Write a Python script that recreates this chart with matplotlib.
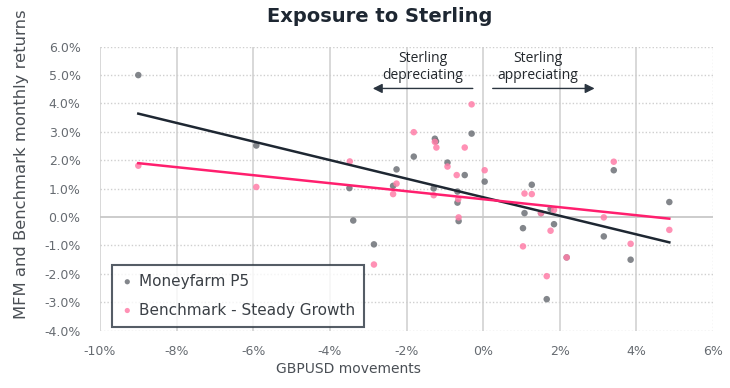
import matplotlib
matplotlib.use("Agg")
import matplotlib.pyplot as plt
import numpy as np
from matplotlib.ticker import FuncFormatter, MultipleLocator

# ---- data (percent) ----
mf_x = [-9.00, -5.92, -3.49, -3.39, -2.85, -2.35, -2.26, -1.81, -1.29, -1.26, -1.23,
        -0.93, -0.67, -0.67, -0.64, -0.48, -0.30, 0.04, 1.04, 1.08, 1.27, 1.51,
        1.66, 1.76, 1.85, 2.18, 3.15, 3.41, 3.85, 4.86]
mf_y = [5.00, 2.52, 1.02, -0.12, -0.96, 1.10, 1.68, 2.13, 1.01, 2.76, 2.67,
        1.92, 0.90, 0.51, -0.14, 1.48, 2.94, 1.25, -0.39, 0.14, 1.14, 0.14,
        -2.89, 0.29, -0.25, -1.42, -0.68, 1.65, -1.50, 0.53]

bm_x = [-9.00, -5.92, -3.48, -2.85, -2.35, -2.26, -1.81, -1.29, -1.26, -1.22,
        -0.93, -0.69, -0.65, -0.64, -0.48, -0.30, 0.04, 1.04, 1.08, 1.27, 1.51,
        1.66, 1.76, 1.85, 2.18, 3.15, 3.41, 3.85, 4.86]
bm_y = [1.81, 1.06, 1.96, -1.67, 0.81, 1.18, 2.99, 0.77, 2.65, 2.45,
        1.78, 1.48, 0.63, -0.01, 2.45, 3.97, 1.65, -1.03, 0.83, 0.81, 0.14,
        -2.08, -0.48, 0.25, -1.42, -0.01, 1.95, -0.94, -0.45]

# linear trend lines (slope, intercept)
mf_trend = (-0.327, 0.70)
bm_trend = (-0.141, 0.63)

series_labels = ["Moneyfarm P5", "Benchmark - Steady Growth"]
title = "Exposure to Sterling"
x_label = "GBPUSD movements"
y_label = "MFM and Benchmark monthly returns"

# ---- figure ----
fig = plt.figure(figsize=(7.3, 3.88), dpi=100)
ax = fig.add_axes([100/730, 1-330.7/388, 613/730, 284/388])

gray_dot = "#6d7177"
pink_dot = "#ff7ea8"
dark_line = "#1e2732"
pink_line = "#ff1f6e"

ax.scatter(mf_x, mf_y, s=22, color=gray_dot, alpha=0.85, edgecolors="none", zorder=3,
           label=series_labels[0])
ax.scatter(bm_x, bm_y, s=22, color=pink_dot, alpha=0.85, edgecolors="none", zorder=3,
           label=series_labels[1])

for xs, tr, col in [(mf_x, mf_trend, dark_line), (bm_x, bm_trend, pink_line)]:
    xx = np.array([min(xs), max(xs)])
    ax.plot(xx, tr[0]*xx + tr[1], color=col, lw=1.8, zorder=4)

ax.set_xlim(-10, 6)
ax.set_ylim(-4, 6)
ax.xaxis.set_major_locator(MultipleLocator(2))
ax.yaxis.set_major_locator(MultipleLocator(1))
ax.xaxis.set_major_formatter(FuncFormatter(lambda v, p: f"{v:.0f}%"))
ax.yaxis.set_major_formatter(FuncFormatter(lambda v, p: f"{v:.1f}%"))

for s in ax.spines.values():
    s.set_visible(False)
ax.tick_params(length=0, labelsize=9, colors="#666b71")
ax.tick_params(axis="y", pad=14)
ax.tick_params(axis="x", pad=10)

# grid
for xv in np.arange(-10, 5, 2):
    ax.axvline(xv, color="#d6d6d6", lw=1.3, zorder=1)
ax.axvline(6, color="#d6d6d6", lw=1.0, ls=(0, (1, 1.5)), zorder=1)
for yv in np.arange(-4, 7, 1):
    if yv == 0:
        ax.axhline(yv, color="#c8c8c8", lw=1.3, zorder=1)
    else:
        ax.axhline(yv, color="#cfcfcf", lw=1.0, ls=(0, (1, 1.5)), zorder=1)

fig.text(348/730, 1-369/388, x_label, fontsize=10, color="#4a4f55", ha="center", va="center")
fig.text(22/730, 1-(164)/388, y_label, fontsize=11.8, color="#4a4f55", ha="center",
         va="center", rotation=90)

# annotations
ann_kw = dict(fontsize=10, color="#22272c", ha="center", va="center", family="Open Sans",
              linespacing=1.15)
ax.text(-1.57, 5.29, "Sterling\ndepreciating", **ann_kw)
ax.text(1.43, 5.29, "Sterling\nappreciating", **ann_kw)
ax.annotate("", xy=(-2.88, 4.53), xytext=(-0.27, 4.53),
            arrowprops=dict(arrowstyle="-|>", color="#2b3540", lw=1.0,
                            mutation_scale=14, shrinkA=0, shrinkB=0))
ax.annotate("", xy=(2.91, 4.53), xytext=(0.25, 4.53),
            arrowprops=dict(arrowstyle="-|>", color="#2b3540", lw=1.0,
                            mutation_scale=14, shrinkA=0, shrinkB=0))

leg = ax.legend(loc="lower left", bbox_to_anchor=((112-100)/613, (330.7-326.7)/284),
                fontsize=11, frameon=True, fancybox=False, handletextpad=0.35,
                markerscale=0.8, labelspacing=0.9, borderpad=0.6, handlelength=0.8,
                borderaxespad=0)
leg.get_frame().set_edgecolor("#2b3540")
leg.get_frame().set_linewidth(1.5)
for t in leg.get_texts():
    t.set_color("#3b4046")

fig.text(380/730, 1-17/388, title, fontsize=14, fontweight="bold", color="#1e2732",
         ha="center", va="center")

fig.savefig("out.png", dpi=100)
